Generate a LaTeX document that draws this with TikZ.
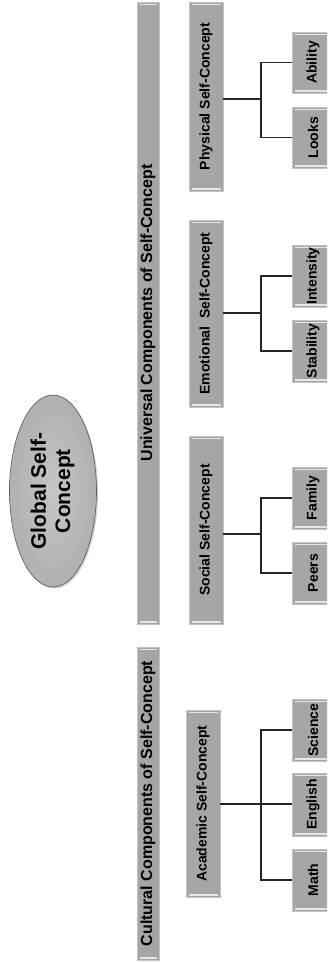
\documentclass[tikz,border=0pt]{standalone}
\usepackage{fontspec}
\setmainfont{Liberation Sans}
\usepackage{graphicx}
\usetikzlibrary{shapes.geometric,shadows}
\definecolor{boxgray}{HTML}{A6A6A6}
\definecolor{boxedge}{HTML}{C4C4C4}
\definecolor{hilite}{HTML}{E6E6E6}
\tikzset{
  gbox/.style={draw=boxedge, line width=0.6pt, fill=boxgray, inner sep=0pt,
    font=\bfseries\fontsize{14}{16}\selectfont,
    path picture={
      \draw[hilite, line width=1.4pt]
        ([xshift=2.5pt,yshift=-2.2pt]path picture bounding box.north west) --
        ([xshift=-2.5pt,yshift=-2.2pt]path picture bounding box.north east);
      \draw[hilite, line width=1.4pt]
        ([xshift=2.5pt,yshift=2.2pt]path picture bounding box.south west) --
        ([xshift=-2.5pt,yshift=2.2pt]path picture bounding box.south east);
    }},
  bar/.style={gbox, minimum width=22pt, font=\bfseries\fontsize{16}{18}\selectfont},
  mid/.style={gbox, minimum width=34pt},
  leaf/.style={gbox, minimum width=42pt},
  conn/.style={draw=black!85, line width=1.3pt},
}
\begin{document}
\begin{tikzpicture}[x=1pt,y=-1pt]
\clip (0,0) rectangle (327,962);
\fill[white] (0,0) rectangle (327,962);
% global ellipse
\node[ellipse, minimum width=87pt, minimum height=192pt, inner sep=0pt,
      draw=gray!70!black, line width=0.6pt,
      shading=radial, inner color=gray!45, outer color=gray!62,
      drop shadow={shadow xshift=1.5pt, shadow yshift=-1.5pt, fill=gray!60, opacity=0.6},
      font=\bfseries\fontsize{21}{25}\selectfont] (glob) at (53,491)
  {\rotatebox{90}{\begin{tabular}{@{}c@{}}Global Self-\\[-1pt]Concept\end{tabular}}};
% component bars
\node[bar, minimum height=622pt] (univ) at (148,313) {\rotatebox{90}{Universal Components of Self-Concept}};
\node[bar, minimum height=313pt] (cult) at (148,803.5) {\rotatebox{90}{Cultural Components of Self-Concept}};
% mid boxes
\node[mid, minimum height=189pt] (phys) at (206,96.5) {\rotatebox{90}{Physical Self-Concept}};
\node[mid, minimum height=187pt] (emot) at (206,313.5) {\rotatebox{90}{Emotional\ \ Self-Concept}};
\node[mid, minimum height=188pt] (soc) at (206,530) {\rotatebox{90}{Social Self-Concept}};
\node[mid, minimum height=187pt] (acad) at (203,803.5) {\rotatebox{90}{Academic Self-Concept}};
% leaves
\node[leaf, minimum height=61pt] (abil) at (313,62.5) {\rotatebox{90}{Ability}};
\node[leaf, minimum height=61pt] (looks) at (313,137.5) {\rotatebox{90}{Looks}};
\node[leaf, minimum height=62pt] (inten) at (313,276) {\rotatebox{90}{Intensity}};
\node[leaf, minimum height=62pt] (stab) at (313,351) {\rotatebox{90}{Stability}};
\node[leaf, minimum height=62pt] (fam) at (313,498) {\rotatebox{90}{Family}};
\node[leaf, minimum height=62pt] (peers) at (313,573) {\rotatebox{90}{Peers}};
\node[leaf, minimum height=62pt] (sci) at (313,730) {\rotatebox{90}{Science}};
\node[leaf, minimum height=63pt] (eng) at (313,804.5) {\rotatebox{90}{English}};
\node[leaf, minimum height=62pt] (math) at (313,880) {\rotatebox{90}{Math}};
% junctions
\coordinate (jp) at (261,99);
\coordinate (je) at (261,313);
\coordinate (js) at (261,534);
\coordinate (ja) at (261,804);
% connectors
\draw[conn] (jp -| phys.east) -- (jp);
\draw[conn] (abil.west) -| (jp) |- (looks.west);
\draw[conn] (je -| emot.east) -- (je);
\draw[conn] (inten.west) -| (je) |- (stab.west);
\draw[conn] (js -| soc.east) -- (js);
\draw[conn] (fam.west) -| (js) |- (peers.west);
\draw[conn] (ja -| acad.east) -- (ja);
\draw[conn] (sci.west) -| (ja) |- (math.west);
\draw[conn] (ja) -- (ja -| eng.west);
\end{tikzpicture}
\end{document}
